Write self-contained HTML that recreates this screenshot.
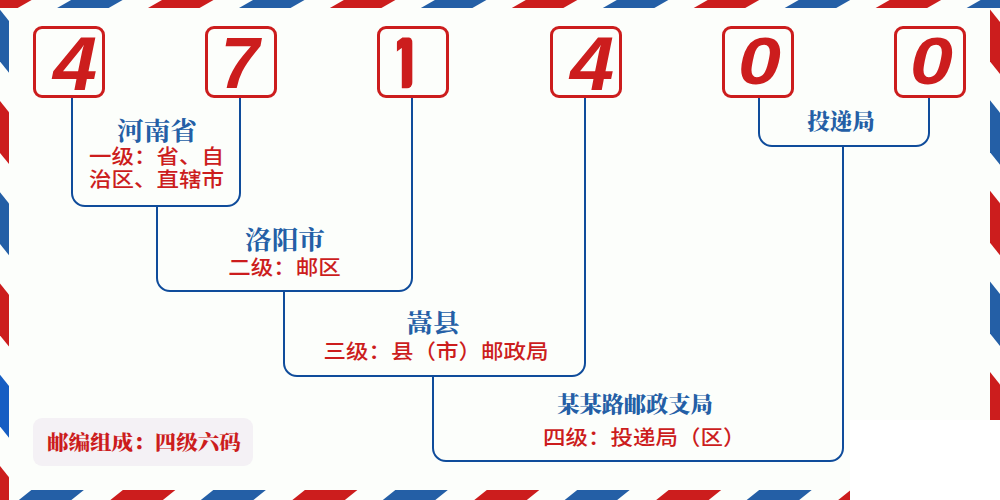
<!DOCTYPE html>
<html lang="zh-CN">
<head>
<meta charset="utf-8">
<title>471400</title>
<style>
html,body{margin:0;padding:0;}
body{width:1000px;height:500px;overflow:hidden;background:#fcfefb;position:relative;
  font-family:"Liberation Sans","Noto Sans CJK SC",sans-serif;}
#frame{position:absolute;left:0;top:0;width:1000px;height:500px;}
.box{position:absolute;top:26px;width:66px;height:66px;border:3px solid #cc1d1d;border-radius:9px;box-sizing:content-box;}
.d{position:absolute;left:-3px;top:-3px;width:72px;height:72px;line-height:72px;text-align:center;color:#cc1d1d;transform-origin:0 0;
  font-family:"Liberation Sans",sans-serif;font-weight:bold;font-style:italic;font-size:70px;}
.t{position:absolute;white-space:nowrap;text-align:center;transform-origin:50% 0;transform:translateX(-50%);}
.title{color:#245fa6;font-family:"Liberation Serif","Noto Serif CJK SC",serif;font-weight:700;font-size:25.5px;line-height:30px;transform:translateX(-50%) scaleX(1.045);}
.title.sm{font-weight:900;font-size:21.6px;line-height:26px;transform:translateX(-50%) scaleX(1.04);}
.sub{color:#cc1d1d;font-family:"Liberation Sans","Noto Sans CJK SC",sans-serif;font-weight:500;font-size:22.5px;line-height:25.2px;transform:translateX(-50%) scaleY(0.92);}
#label{position:absolute;left:33px;top:418px;width:220px;height:48px;border-radius:9px;background:#f4f1f5;
  color:#cc1d1d;font-family:"Liberation Serif","Noto Serif CJK SC",serif;font-weight:900;font-size:20.7px;line-height:50.2px;text-align:center;white-space:nowrap;}
#patch{position:absolute;left:850px;top:420px;width:150px;height:80px;background:#fff;}
</style>
</head>
<body>
<svg id="frame" width="1000" height="500" viewBox="0 0 1000 500">
<g shape-rendering="geometricPrecision">
<polygon points="-33.9,7.9 17.6,7.9 31.6,0.0 -19.9,0.0" fill="#cc1d1d"/>
<polygon points="57.1,7.9 108.6,7.9 122.6,0.0 71.1,0.0" fill="#245fa6"/>
<polygon points="148.0,7.9 199.5,7.9 213.5,0.0 162.0,0.0" fill="#cc1d1d"/>
<polygon points="239.0,7.9 290.5,7.9 304.5,0.0 253.0,0.0" fill="#245fa6"/>
<polygon points="329.9,7.9 381.4,7.9 395.4,0.0 343.9,0.0" fill="#cc1d1d"/>
<polygon points="420.9,7.9 472.4,7.9 486.4,0.0 434.9,0.0" fill="#245fa6"/>
<polygon points="511.8,7.9 563.3,7.9 577.3,0.0 525.8,0.0" fill="#cc1d1d"/>
<polygon points="602.8,7.9 654.3,7.9 668.3,0.0 616.8,0.0" fill="#245fa6"/>
<polygon points="693.7,7.9 745.2,7.9 759.2,0.0 707.7,0.0" fill="#cc1d1d"/>
<polygon points="784.7,7.9 836.2,7.9 850.2,0.0 798.7,0.0" fill="#245fa6"/>
<polygon points="875.6,7.9 927.1,7.9 941.1,0.0 889.6,0.0" fill="#cc1d1d"/>
<polygon points="966.6,7.9 1018.1,7.9 1032.1,0.0 980.6,0.0" fill="#245fa6"/>
<polygon points="31.4,490.0 83.9,490.0 71.4,500.0 18.9,500.0" fill="#245fa6"/>
<polygon points="122.9,490.0 175.4,490.0 162.9,500.0 110.4,500.0" fill="#cc1d1d"/>
<polygon points="213.3,490.0 265.9,490.0 253.4,500.0 200.8,500.0" fill="#245fa6"/>
<polygon points="304.9,490.0 357.4,490.0 344.9,500.0 292.4,500.0" fill="#cc1d1d"/>
<polygon points="395.3,490.0 447.8,490.0 435.3,500.0 382.8,500.0" fill="#245fa6"/>
<polygon points="486.8,490.0 539.3,490.0 526.8,500.0 474.3,500.0" fill="#cc1d1d"/>
<polygon points="577.2,490.0 629.7,490.0 617.2,500.0 564.7,500.0" fill="#245fa6"/>
<polygon points="668.7,490.0 721.2,490.0 708.7,500.0 656.2,500.0" fill="#cc1d1d"/>
<polygon points="759.2,490.0 811.7,490.0 799.2,500.0 746.7,500.0" fill="#245fa6"/>
<polygon points="850.7,490.0 903.2,490.0 890.7,500.0 838.2,500.0" fill="#cc1d1d"/>
<polygon points="941.1,490.0 993.6,490.0 981.1,500.0 928.6,500.0" fill="#245fa6"/>
<polygon points="0.0,9.8 9.0,21.0 9.0,72.8 0.0,61.6" fill="#245fa6"/>
<polygon points="0.0,101.0 9.0,112.2 9.0,164.1 0.0,152.9" fill="#cc1d1d"/>
<polygon points="0.0,192.3 9.0,203.5 9.0,255.3 0.0,244.1" fill="#245fa6"/>
<polygon points="0.0,283.6 9.0,294.8 9.0,346.6 0.0,335.4" fill="#cc1d1d"/>
<polygon points="0.0,374.8 9.0,386.0 9.0,437.8 0.0,426.6" fill="#165ec3"/>
<polygon points="0.0,466.1 9.0,477.2 9.0,529.0 0.0,517.8" fill="#cc1d1d"/>
<polygon points="990.0,9.6 1000.0,22.1 1000.0,74.1 990.0,61.6" fill="#cc1d1d"/>
<polygon points="990.0,100.2 1000.0,112.7 1000.0,164.7 990.0,152.2" fill="#245fa6"/>
<polygon points="990.0,190.8 1000.0,203.3 1000.0,255.3 990.0,242.8" fill="#cc1d1d"/>
<polygon points="990.0,281.4 1000.0,293.9 1000.0,345.9 990.0,333.4" fill="#245fa6"/>
<polygon points="990.0,372.0 1000.0,384.5 1000.0,436.5 990.0,424.0" fill="#cc1d1d"/>
<polygon points="990.0,462.6 1000.0,475.1 1000.0,527.1 990.0,514.6" fill="#245fa6"/>
</g>
<g fill="none" stroke="#0f4c9b" stroke-width="2">
<path d="M72.0,97.0 V193.0 A13,13 0 0 0 85.0,206.0 H227.0 A13,13 0 0 0 240.0,193.0 V97.0"/>
<path d="M157.0,206.0 V278.0 A13,13 0 0 0 170.0,291.0 H399.0 A13,13 0 0 0 412.0,278.0 V97.0"/>
<path d="M284.0,291.0 V363.0 A13,13 0 0 0 297.0,376.0 H572.0 A13,13 0 0 0 585.0,363.0 V97.0"/>
<path d="M433.0,376.0 V448.0 A13,13 0 0 0 446.0,461.0 H830.0 A13,13 0 0 0 843.0,448.0 V146.0"/>
<path d="M759.0,97.0 V133.0 A13,13 0 0 0 772.0,146.0 H916.0 A13,13 0 0 0 929.0,133.0 V97.0"/>
</g>
</svg>
<div class="box" style="left:33.0px"><span class="d" style="transform:translate(1.35px,-1.70px) scale(1.1333,1.0900)">4</span></div>
<div class="box" style="left:205.0px"><span class="d" style="transform:translate(-0.66px,-0.18px) scale(0.9889,1.0300)">7</span></div>
<div class="box" style="left:377.0px"><span class="d" style="font-style:normal;clip-path:inset(10.5px 29.5px 20.5px 28.5px round 5px);transform:translate(-12.00px,-2.63px) scale(1.1200,1.2600)">1</span></div>
<div class="box" style="left:550.0px"><span class="d" style="transform:translate(1.35px,-1.70px) scale(1.1333,1.0900)">4</span></div>
<div class="box" style="left:722.0px"><span class="d" style="transform:translate(-2.35px,0.39px) scale(1.1029,0.9551)">0</span></div>
<div class="box" style="left:894.0px"><span class="d" style="transform:translate(-2.35px,0.39px) scale(1.1029,0.9551)">0</span></div>
<div class="t title" style="left:157.4px;top:116.7px">河南省</div>
<div class="t sub" style="left:156.5px;top:146.2px">一级：省、自<br>治区、直辖市</div>
<div class="t title" style="left:284.8px;top:226px">洛阳市</div>
<div class="t sub" style="left:284.5px;top:257.3px">二级：邮区</div>
<div class="t title" style="left:433px;top:309.3px">嵩县</div>
<div class="t sub" style="left:436px;top:340.5px">三级：县（市）邮政局</div>
<div class="t title sm" style="transform:translateX(-50%) scaleX(1.03);left:635.2px;top:391.9px">某某路邮政支局</div>
<div class="t sub" style="left:644.3px;top:427.0px">四级：投递局（区）</div>
<div class="t title sm" style="left:840.8px;top:108.8px">投递局</div>
<div id="label"><span style="display:inline-block;transform:translateX(0.8px) scaleX(1.04)">邮编组成：四级六码</span></div>
<div id="patch"></div>
</body>
</html>
